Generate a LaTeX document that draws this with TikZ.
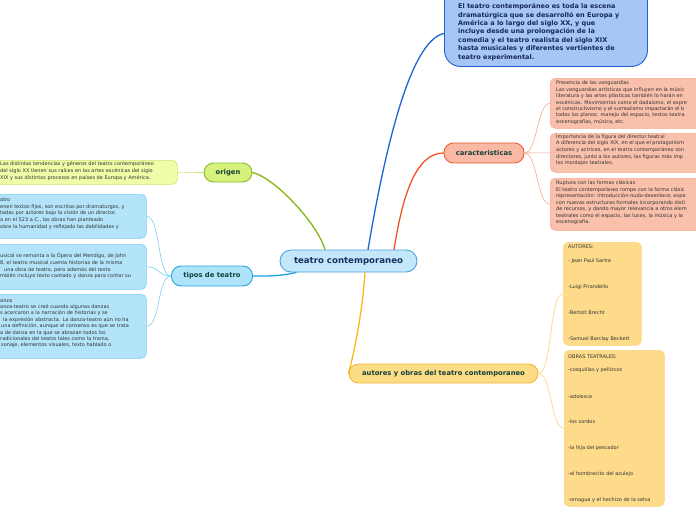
\documentclass[tikz,border=0pt]{standalone}
\usepackage{fontspec}
\setmainfont{DejaVu Sans}
\definecolor{topfill}{HTML}{A6C6F6}
\definecolor{topdraw}{HTML}{1F62D6}
\definecolor{toptext}{HTML}{13295A}
\definecolor{cenfill}{HTML}{C4E8FB}
\definecolor{cendraw}{HTML}{4AA2E0}
\definecolor{centext}{HTML}{17305C}
\definecolor{carfill}{HTML}{F9B9A4}
\definecolor{cardraw}{HTML}{EF5A2B}
\definecolor{carcfill}{HTML}{F9C0AC}
\definecolor{carcdraw}{HTML}{F6A88E}
\definecolor{orifill}{HTML}{D6F27C}
\definecolor{oridraw}{HTML}{86BD2C}
\definecolor{oricfill}{HTML}{EFFCA8}
\definecolor{oricdraw}{HTML}{CDE86B}
\definecolor{tipfill}{HTML}{AEE3F9}
\definecolor{tipdraw}{HTML}{21A6E6}
\definecolor{tipcfill}{HTML}{B3E4FA}
\definecolor{tipcdraw}{HTML}{7CD0F2}
\definecolor{autfill}{HTML}{FDDC86}
\definecolor{autdraw}{HTML}{F6B63A}
\definecolor{autcfill}{HTML}{FDDB8A}
\definecolor{autcdraw}{HTML}{FCD27A}
\definecolor{labeltext}{HTML}{153F3A}
\definecolor{smalltext}{HTML}{333333}
\definecolor{lblue}{HTML}{1A66D6}
\definecolor{lorange}{HTML}{F05423}
\definecolor{lgreen}{HTML}{85B812}
\definecolor{lcyan}{HTML}{1BA3E3}
\definecolor{lyellow}{HTML}{F8BB1C}
\newcommand\boxlines[5]{%
  \foreach \t [count=\i] in {#5}
    \node[smalltxt] (#1-\i) at (#2,{#3+(\i-1)*#4}) {\t};}
\begin{document}
\begin{tikzpicture}[x=1pt,y=-1pt,
  mainnode/.style={draw, rounded corners=9.5pt, line width=0.9pt, inner sep=0pt,
     font=\bfseries\fontsize{6.8}{8}\selectfont, text=labeltext},
  childbox/.style={draw, rounded corners=5pt, line width=0.6pt, inner sep=0pt, anchor=north west},
  smalltxt/.style={inner sep=0pt, anchor=base west, text=smalltext, font=\fontsize{5}{6}\selectfont},
  toptxt/.style={inner sep=0pt, anchor=base west, text=toptext, font=\bfseries\fontsize{6.5}{8}\selectfont},
  mainline/.style={line width=1.3pt, line cap=round},
  thinline/.style={line width=0.6pt, line cap=round}]
\useasboundingbox (0,0) rectangle (696,520);
\fill[white] (0,0) rectangle (696,520);

% ---- boxes ----
\node[childbox, draw=topdraw, fill=topfill, rounded corners=16pt, line width=0.9pt,
      minimum width=203pt, minimum height=81pt] (top) at (444,-15) {};
\node[mainnode, draw=cendraw, fill=cenfill, rounded corners=11pt, text=centext,
      font=\bfseries\fontsize{8.6}{10}\selectfont,
      minimum width=137pt, minimum height=22pt] (c) at (348.5,261) {teatro contemporaneo};
\node[mainnode, draw=cardraw, fill=carfill, minimum width=80pt, minimum height=20pt] (car) at (484,153) {caracteristicas};
\node[mainnode, draw=oridraw, fill=orifill, minimum width=48pt, minimum height=19pt] (ori) at (228,172.5) {origen};
\node[mainnode, draw=tipdraw, fill=tipfill, minimum width=81pt, minimum height=20pt] (tip) at (212,276) {tipos de teatro};
\node[mainnode, draw=autdraw, fill=autfill, minimum width=189pt, minimum height=19pt] (aut) at (443.5,373.5) {autores y obras del teatro contemporaneo};

\node[childbox, draw=carcdraw, fill=carcfill, minimum width=170pt, minimum height=50pt] (cb1) at (550,78) {};
\node[childbox, draw=carcdraw, fill=carcfill, minimum width=170pt, minimum height=39pt] (cb2) at (550,133) {};
\node[childbox, draw=carcdraw, fill=carcfill, minimum width=170pt, minimum height=52pt] (cb3) at (550,178) {};
\node[childbox, draw=oricdraw, fill=oricfill, minimum width=187pt, minimum height=24pt] (och) at (-10,160) {};
\node[childbox, draw=tipcdraw, fill=tipcfill, minimum width=166pt, minimum height=44pt] (tb1) at (-20,194) {};
\node[childbox, draw=tipcdraw, fill=tipcfill, minimum width=166pt, minimum height=45pt] (tb2) at (-20,244) {};
\node[childbox, draw=tipcdraw, fill=tipcfill, minimum width=166pt, minimum height=64pt] (tb3) at (-20,294) {};
\node[childbox, draw=autcdraw, fill=autcfill, minimum width=78pt, minimum height=103pt] (ab1) at (563,242) {};
\node[childbox, draw=autcdraw, fill=autcfill, minimum width=100pt, minimum height=156pt] (ab2) at (564,350) {};

% ---- connectors ----
\draw[mainline, lblue] ([xshift=19.5pt]c.north) .. controls +(17,-100) and +(-34,7) .. ([yshift=-7.5pt]top.west);
\draw[mainline, lorange] ([xshift=45.5pt]c.north) .. controls +(8,-50) and +(-29,0) .. (car.west);
\draw[mainline, lgreen] ([xshift=-23.5pt]c.north) .. controls +(-7,-25) and +(23,5.5) .. (ori.east);
\draw[mainline, lcyan] ([xshift=-52.5pt]c.south) .. controls +(-16,4) and +(13,0) .. (tip.east);
\draw[mainline, lyellow] ([xshift=16.5pt]c.south) .. controls +(-3,45) and +(4,-15) .. (aut.west);

\draw[thinline, carcdraw] (car.east) .. controls +(13,0) and +(-13,0) .. (cb1.west);
\draw[thinline, carcdraw] (car.east) -- (cb2.west);
\draw[thinline, carcdraw] (car.east) .. controls +(13,0) and +(-13,0) .. (cb3.west);
\draw[thinline, oricdraw] (ori.west) -- (och.east);
\draw[thinline, tipcdraw] (tip.west) .. controls +(-14,0) and +(14,0) .. (tb1.east);
\draw[thinline, tipcdraw] (tip.west) .. controls +(-14,0) and +(14,0) .. (tb2.east);
\draw[thinline, tipcdraw] (tip.west) .. controls +(-14,0) and +(14,0) .. (tb3.east);
\draw[thinline, autcdraw] (aut.east) .. controls +(14,0) and +(-14,0) .. (ab1.west);
\draw[thinline, autcdraw] (aut.east) .. controls +(14,0) and +(-14,0) .. (ab2.west);

% ---- texts ----
\foreach \t [count=\i] in {{El teatro contemporáneo es toda la escena},
  {dramatúrgica que se desarrolló en Europa y},
  {América a lo largo del siglo XX, y que},
  {incluye desde una prolongación de la},
  {comedia y el teatro realista del siglo XIX},
  {hasta musicales y diferentes vertientes de},
  {teatro experimental.}}
  \node[toptxt] (tt-\i) at (458,{8.7+(\i-1)*8.43}) {\t};

\boxlines{p1}{556}{84.8}{6.4}{{Presencia de las vanguardias},
  {Las vanguardias artísticas que influyen en la músic},
  {literatura y las artes plásticas también lo harán en},
  {escénicas. Movimientos como el dadaísmo, el expre},
  {el constructivismo y el surrealismo impactarán el b},
  {todos los planos: manejo del espacio, textos teatra},
  {escenografías, música, etc.}}
\boxlines{p2}{556}{138.2}{6.65}{{Importancia de la figura del director teatral},
  {A diferencia del siglo XIX, en el que el protagonism},
  {actores y actrices, en el teatro contemporáneo son},
  {directores, junto a los autores, las figuras más imp},
  {los montajes teatrales.}}
\boxlines{p3}{556}{184.8}{6.45}{{Ruptura con las formas clásicas},
  {El teatro contemporáneo rompe con la forma clásic},
  {representación: introducción-nudo-desenlace; expe},
  {con nuevas estructuras formales incorporando disti},
  {de recursos, y dando mayor relevancia a otros elem},
  {teatrales como el espacio, las luces, la música y la},
  {escenografía.}}
\boxlines{o1}{0}{165.8}{7}{{Las distintas tendencias y géneros del teatro contemporáneo},
  {del siglo XX tienen sus raíces en las artes escénicas del siglo},
  {XIX y sus distintos procesos en países de Europa y América.}}
\boxlines{q1}{0}{201.5}{6.67}{{atro},
  {enen textos fijos, son escritas por dramaturgos, y},
  {tadas por actores bajo la visión de un director.},
  {a en el 523 a.C., las obras han planteado},
  {obre la humanidad y reflejado las debilidades y}}
\boxlines{q2}{0}{257.5}{6.8}{{usical se remonta a la Ópera del Mendigo, de John},
  {8, el teatro musical cuenta historias de la misma},
  {\hspace*{4pt}una obra de teatro, pero además del texto},
  {mbién incluye texto cantado y danza para contar su}}
\boxlines{q3}{0}{302}{6.4}{{anza},
  {anza-teatro se creó cuando algunas danzas},
  {s acercaron a la narración de historias y se},
  {\hspace*{3pt}la expresión abstracta. La danza-teatro aún no ha},
  {\hspace*{1pt}una definición, aunque el consenso es que se trata},
  {a de danza en la que se abrazan todos los},
  {radicionales del teatro tales como la trama,},
  {\hspace*{1pt}sonaje, elementos visuales, texto hablado o}}

\node[smalltxt] (a0) at (568,248.5) {AUTORES:};
\node[smalltxt] (a1) at (568,262.5) {- Jean Paul Sartre};
\node[smalltxt] (a2) at (568,288.5) {-Luigi Pirandello};
\node[smalltxt] (a3) at (568,314.5) {-Bertolt Brecht};
\node[smalltxt] (a4) at (568,340.5) {-Samuel Barclay Beckett};

\node[smalltxt] (b0) at (568,358.5) {OBRAS TEATRALES:};
\node[smalltxt] (b1) at (568,371.5) {-cosquillas y pellizcos};
\node[smalltxt] (b2) at (568,398.5) {-adolesce};
\node[smalltxt] (b3) at (568,423.5) {-los sordos};
\node[smalltxt] (b4) at (568,449.5) {-la hija del pescador};
\node[smalltxt] (b5) at (568,475.5) {-el hombrecito del azulejo};
\node[smalltxt] (b6) at (568,501.5) {-omagua y el hechizo de la selva};
\end{tikzpicture}
\end{document}
